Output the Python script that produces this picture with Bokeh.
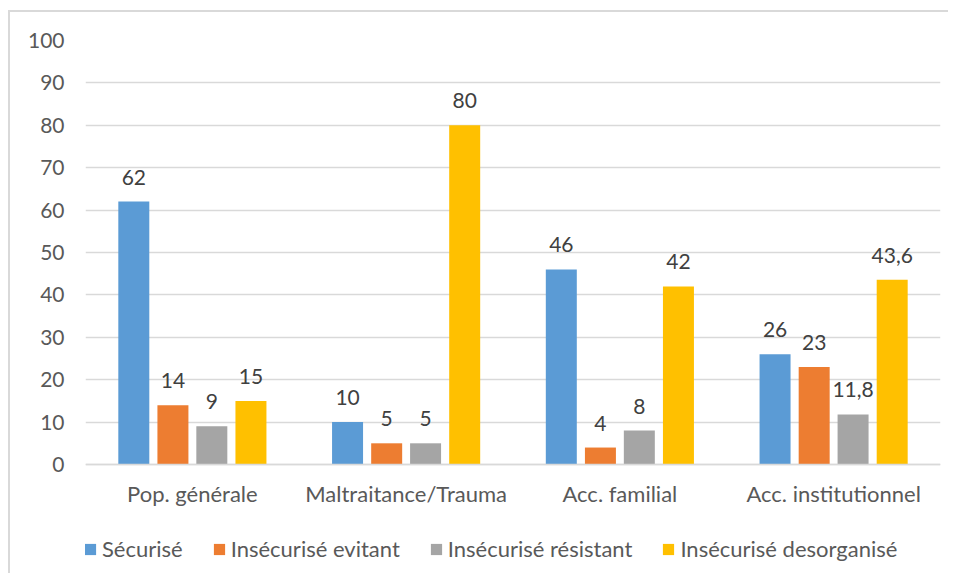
from bokeh.plotting import figure
from bokeh.models import ColumnDataSource, FactorRange, Legend, LegendItem, LabelSet, FixedTicker, Range1d
from bokeh.transform import dodge
from bokeh.core.properties import value
from bokeh.embed import file_html
from bokeh.resources import INLINE

categories = ["Pop. générale", "Maltraitance/Trauma", "Acc. familial", "Acc. institutionnel"]
series_names = ["Sécurisé", "Insécurisé evitant", "Insécurisé résistant", "Insécurisé desorganisé"]
securise = [62, 10, 46, 26]
evitant = [14, 5, 4, 23]
resistant = [9, 5, 8, 11.8]
desorganise = [15, 80, 42, 43.6]
y_ticks = [0, 10, 20, 30, 40, 50, 60, 70, 80, 90, 100]

colors = ["#5B9BD5", "#ED7D31", "#A5A5A5", "#FFC000"]
FONT = "Lato"
TXT = "#595959"

# layout (pixels)
FRAME_W, FRAME_H = 855, 533
AXIS_PX = 424          # pixel height of the 0..100 value span
Y_TOP = 100
y_bottom = Y_TOP - Y_TOP * FRAME_H / AXIS_PX


def fmt(v):
    return str(int(v)) if float(v).is_integer() else str(v).replace(".", ",")


series = [securise, evitant, resistant, desorganise]
keys = ["s0", "s1", "s2", "s3"]
data = {"cat": categories}
for k, vals in zip(keys, series):
    data[k] = vals
    data[k + "_lab"] = [fmt(v) for v in vals]
src = ColumnDataSource(data)

p = figure(x_range=FactorRange(*categories, range_padding=0), y_range=Range1d(y_bottom, Y_TOP),
           frame_width=FRAME_W, frame_height=FRAME_H, output_backend="svg", toolbar_location=None,
           min_border=0)
p.min_border_left = 75
p.min_border_top = 28
p.min_border_right = 8
p.min_border_bottom = 0
p.outline_line_color = None
p.background_fill_color = "white"
p.border_fill_color = "white"
p.styles = {"border-left": "2px solid #d9d9d9", "border-top": "2px solid #d9d9d9",
            "margin-top": "10px", "margin-left": "8px"}

offsets = [-0.274, -0.091, 0.091, 0.274]
renderers = []
for k, off, c in zip(keys, offsets, colors):
    r = p.vbar(x=dodge("cat", off, range=p.x_range), top=k, bottom=0, width=0.145, source=src,
               fill_color=c, line_color=None)
    renderers.append(r)
    lbl = LabelSet(x=dodge("cat", off, range=p.x_range), y=k, text=k + "_lab", source=src,
                   text_align="center", text_baseline="alphabetic", y_offset=17,
                   text_font=value(FONT), text_font_size=value("21px"), text_color="#404040")
    p.add_layout(lbl)

p.yaxis.ticker = FixedTicker(ticks=y_ticks)
p.yaxis.axis_line_color = None
p.yaxis.major_tick_line_color = None
p.yaxis.major_tick_out = 0
p.yaxis.major_tick_in = 0
p.yaxis.minor_tick_line_color = None
p.yaxis.major_label_standoff = 21
p.yaxis.major_label_text_font = FONT
p.yaxis.major_label_text_font_size = "21px"
p.yaxis.major_label_text_color = TXT

p.xaxis.fixed_location = 0
p.xaxis.axis_line_color = "#d9d9d9"
p.xaxis.axis_line_width = 1.5
p.xaxis.major_tick_line_color = None
p.xaxis.major_tick_out = 0
p.xaxis.major_tick_in = 0
p.xaxis.minor_tick_line_color = None
p.xaxis.major_label_standoff = 15
p.xaxis.major_label_text_font = FONT
p.xaxis.major_label_text_font_size = "22px"
p.xaxis.major_label_text_color = TXT

p.xgrid.grid_line_color = None
p.ygrid.grid_line_color = "#d9d9d9"
p.ygrid.grid_line_width = 1.5

legend = Legend(items=[LegendItem(label=n, renderers=[r]) for n, r in zip(series_names, renderers)],
                orientation="horizontal", location=(-2, 11), padding=0, margin=0,
                spacing=29, label_standoff=5, glyph_width=14, glyph_height=14,
                label_text_font=FONT, label_text_font_size="22px", label_text_color=TXT,
                border_line_color=None, background_fill_alpha=0)
p.add_layout(legend, "center")

open("out.html", "w").write(file_html(p, INLINE))
